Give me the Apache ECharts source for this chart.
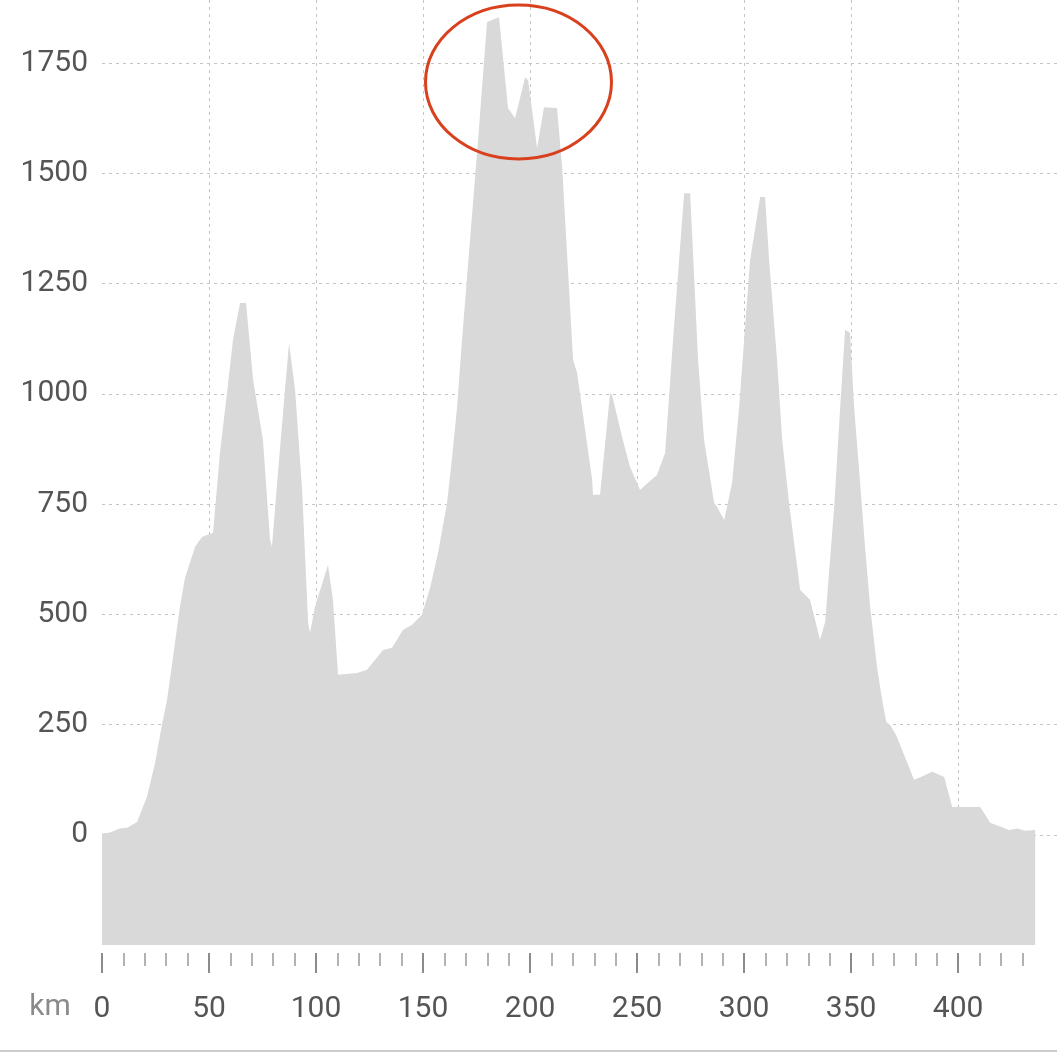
<!DOCTYPE html>
<html><head><meta charset="utf-8">
<script src="https://cdn.jsdelivr.net/npm/echarts@6/dist/echarts.min.js"></script>
<style>html,body{margin:0;padding:0;background:#fff}#c{width:1057px;height:1057px}</style>
</head><body><div id="c"></div>
<script>
// Distance along route (km)
const distKm = [0, 3.7, 8.4, 11.7, 16.4, 21.0, 24.8, 28.0, 30.4, 33.2,
  36.4, 38.8, 43.5, 46.7, 49.1, 51.9, 55.1, 58.4, 61.2, 64.5,
  67.3, 70.6, 75.2, 78.5, 79.4, 82.2, 85.5, 87.4, 88.3, 90.2,
  93.5, 96.3, 97.2, 99.5, 105.6, 107.9, 110.3, 119.2, 123.8, 131.3,
  135.5, 140.7, 144.9, 149.5, 153.3, 157.0, 161.2, 163.6, 165.9, 168.2,
  175.7, 179.9, 185.5, 189.7, 193.0, 197.7, 199.1, 203.3, 206.5, 212.6,
  215.0, 220.1, 222.0, 229.0, 229.4, 232.7, 237.4, 238.3, 243.0, 246.7,
  251.4, 255.1, 259.3, 263.1, 266.8, 272.0, 274.8, 278.5, 281.3, 286.0,
  287.4, 290.7, 294.4, 297.7, 300.0, 302.8, 307.5, 309.8, 311.7, 315.4,
  317.8, 321.0, 326.2, 330.8, 335.5, 337.9, 342.1, 344.9, 347.2, 349.5,
  351.4, 354.2, 356.5, 358.9, 362.1, 364.5, 366.4, 368.2, 371.0, 379.4,
  381.8, 387.9, 393.5, 397.2, 405.6, 410.3, 415.0, 423.8, 427.6, 431.3,
  436.0];
// Elevation (m)
const elevM = [3, 5, 14, 16, 29, 86, 163, 249, 306, 403,
  517, 583, 653, 675, 680, 685, 866, 1002, 1122, 1206,
  1206, 1031, 895, 669, 653, 820, 1009, 1115, 1115, 1009,
  782, 481, 458, 517, 612, 533, 363, 367, 374, 419,
  424, 465, 476, 499, 560, 639, 752, 857, 970, 1122,
  1575, 1843, 1854, 1648, 1625, 1718, 1711, 1557, 1650, 1648,
  1514, 1077, 1047, 805, 771, 771, 1002, 997, 902, 834,
  782, 798, 816, 866, 1122, 1455, 1455, 1077, 895, 753,
  743, 714, 798, 970, 1122, 1303, 1446, 1446, 1303, 1077,
  895, 753, 555, 533, 442, 483, 743, 970, 1145, 1138,
  970, 798, 653, 517, 381, 306, 256, 249, 227, 125,
  129, 143, 131, 63, 63, 63, 27, 11, 14, 9,
  11];
const yTickValues = [0, 250, 500, 750, 1000, 1250, 1500, 1750];
const xMajorTicks = [0, 50, 100, 150, 200, 250, 300, 350, 400];
const xMinorTicks = [10, 20, 30, 40, 60, 70, 80, 90, 110, 120, 130, 140, 160, 170, 180, 190,
  210, 220, 230, 240, 260, 270, 280, 290, 310, 320, 330, 340, 360, 370, 380, 390, 410, 420, 430];
const xUnit = 'km';
const highlight = { km: 194.6, m: 1707 }; // circled summit area

const chart = echarts.init(document.getElementById('c'), null, { renderer: 'canvas' });
const FONT = 'Roboto';
const seriesData = distKm.map((d, i) => [d, elevM[i]]);
const plain = v => String(v);

chart.setOption({
  animation: false,
  backgroundColor: '#ffffff',
  grid: { left: 102, right: 0, top: 0, bottom: 112, containLabel: false },
  xAxis: [{
    type: 'value', min: 0, max: 446.2, position: 'bottom', offset: 8,
    axisLine: { show: false, onZero: false },
    axisTick: { show: true, customValues: xMajorTicks, length: 20, lineStyle: { color: '#666', width: 1.5 } },
    axisLabel: { customValues: xMajorTicks, margin: 41, fontFamily: FONT, fontSize: 30, color: '#555', formatter: plain },
    splitLine: { show: true, showMinLine: false, lineStyle: { color: '#c4c4c4', type: [3, 4], width: 1 } }
  }, {
    type: 'value', min: 0, max: 446.2, position: 'bottom', offset: 8,
    axisLine: { show: false, onZero: false },
    axisTick: { show: true, customValues: xMinorTicks, length: 13, lineStyle: { color: '#999', width: 1.5 } },
    axisLabel: { show: false },
    splitLine: { show: false }
  }],
  yAxis: {
    type: 'value', min: -250, max: 1893,
    axisLine: { show: false },
    axisTick: { show: false, customValues: yTickValues },
    axisLabel: { customValues: yTickValues, margin: 14, fontFamily: FONT, fontSize: 30, color: '#555', formatter: plain },
    splitLine: { show: true, lineStyle: { color: '#c4c4c4', type: [3, 4], width: 1 } }
  },
  series: [{
    type: 'line', data: seriesData, xAxisIndex: 0, yAxisIndex: 0,
    symbol: 'none', smooth: false,
    lineStyle: { width: 0, color: '#d9d9d9' },
    areaStyle: { color: '#d9d9d9', opacity: 1, origin: 'start' },
    z: 3
  }]
});

const c = chart.convertToPixel({ xAxisIndex: 0, yAxisIndex: 0 }, [highlight.km, highlight.m]);
chart.setOption({
  graphic: [
    { type: 'ellipse', shape: { cx: c[0], cy: c[1], rx: 93, ry: 77 },
      style: { fill: 'none', stroke: '#d8401e', lineWidth: 3 }, z: 100 },
    { type: 'text', x: 50, y: 1007, style: { text: xUnit, fontFamily: FONT, fontSize: 30, fill: '#8a8a8a', align: 'center', verticalAlign: 'middle' } },
    { type: 'line', shape: { x1: 0, y1: 1051, x2: 1057, y2: 1051 }, style: { stroke: '#cccccc', lineWidth: 2 } }
  ]
});
</script>
</body></html>
